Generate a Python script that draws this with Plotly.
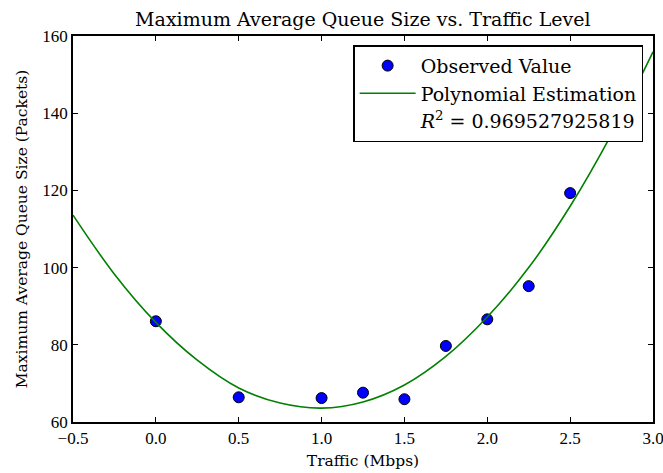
import plotly.graph_objects as go

traffic_mbps = [0.0, 0.5, 1.0, 1.25, 1.5, 1.75, 2.0, 2.25, 2.5]
queue_size = [86.1, 66.4, 66.2, 67.6, 65.9, 79.7, 86.6, 95.2, 119.3]

# Polynomial estimation curve
curve_x = [-0.5, -0.25, 0.0, 0.25, 0.5, 0.75, 1.0, 1.25, 1.5, 1.75, 2.0, 2.25, 2.5, 2.75, 3.0]
curve_y = [113.6, 98.3, 85.8, 76.0, 68.8, 64.9, 63.6, 65.2, 69.6, 77.0, 87.2, 100.0, 115.9, 134.6, 155.9]

r_squared_text = "0.969527925819"
x_ticks = [-0.5, 0.0, 0.5, 1.0, 1.5, 2.0, 2.5, 3.0]
y_ticks = [60, 80, 100, 120, 140, 160]

TEXT_FONT = "DejaVu Serif"
NUM_FONT = "Liberation Serif"

fig = go.Figure()
fig.add_trace(go.Scatter(
    x=traffic_mbps, y=queue_size, mode="markers", name="Observed Value",
    marker=dict(color="#0000ff", size=11, line=dict(color="black", width=1)),
))
fig.add_trace(go.Scatter(
    x=curve_x, y=curve_y, mode="lines", name="Polynomial Estimation",
    line=dict(color="#008000", width=1.6, shape="spline", smoothing=1.0),
))
fig.add_trace(go.Scatter(
    x=[None], y=[None], mode="lines",
    name="<i>R</i><sup>2</sup> = " + r_squared_text,
    line=dict(color="rgba(0,0,0,0)", width=0),
))

axis_common = dict(
    showline=True, linecolor="black", linewidth=1.5, mirror="allticks",
    ticks="inside", ticklen=5, tickwidth=1, tickcolor="black",
    showgrid=False, zeroline=False, automargin=False,
    ticklabeloverflow="allow",
    tickfont=dict(family=NUM_FONT, size=17, color="black"),
)

fig.update_layout(
    width=663, height=473,
    margin=dict(l=73, r=10, t=36, b=51),
    paper_bgcolor="white", plot_bgcolor="white",
    font=dict(family=TEXT_FONT, color="black"),
    title=dict(text="Maximum Average Queue Size vs. Traffic Level",
               x=0.5 * (72.7 + 653) / 663, xanchor="center",
               y=1 - 19 / 473, yanchor="middle",
               font=dict(family=TEXT_FONT, size=19, color="black")),
    xaxis=dict(axis_common, range=[-0.5, 3.0], tickvals=x_ticks, tickformat=".1f",
               title=dict(text="Traffic (Mbps)", font=dict(family=TEXT_FONT, size=15.5), standoff=8)),
    yaxis=dict(axis_common, range=[60, 160], tickvals=y_ticks,
               title=dict(text="Maximum Average Queue Size (Packets)", font=dict(family=TEXT_FONT, size=15.5), standoff=11)),
    legend=dict(x=0.983, y=0.976, xanchor="right", yanchor="top",
                bgcolor="white", bordercolor="black", borderwidth=1.5,
                font=dict(family=TEXT_FONT, size=19, color="black"),
                itemwidth=56, tracegroupgap=0),
    showlegend=True,
)

fig.write_html("out.html", config={"displayModeBar": False},
               post_script="document.body.style.margin='0';")
